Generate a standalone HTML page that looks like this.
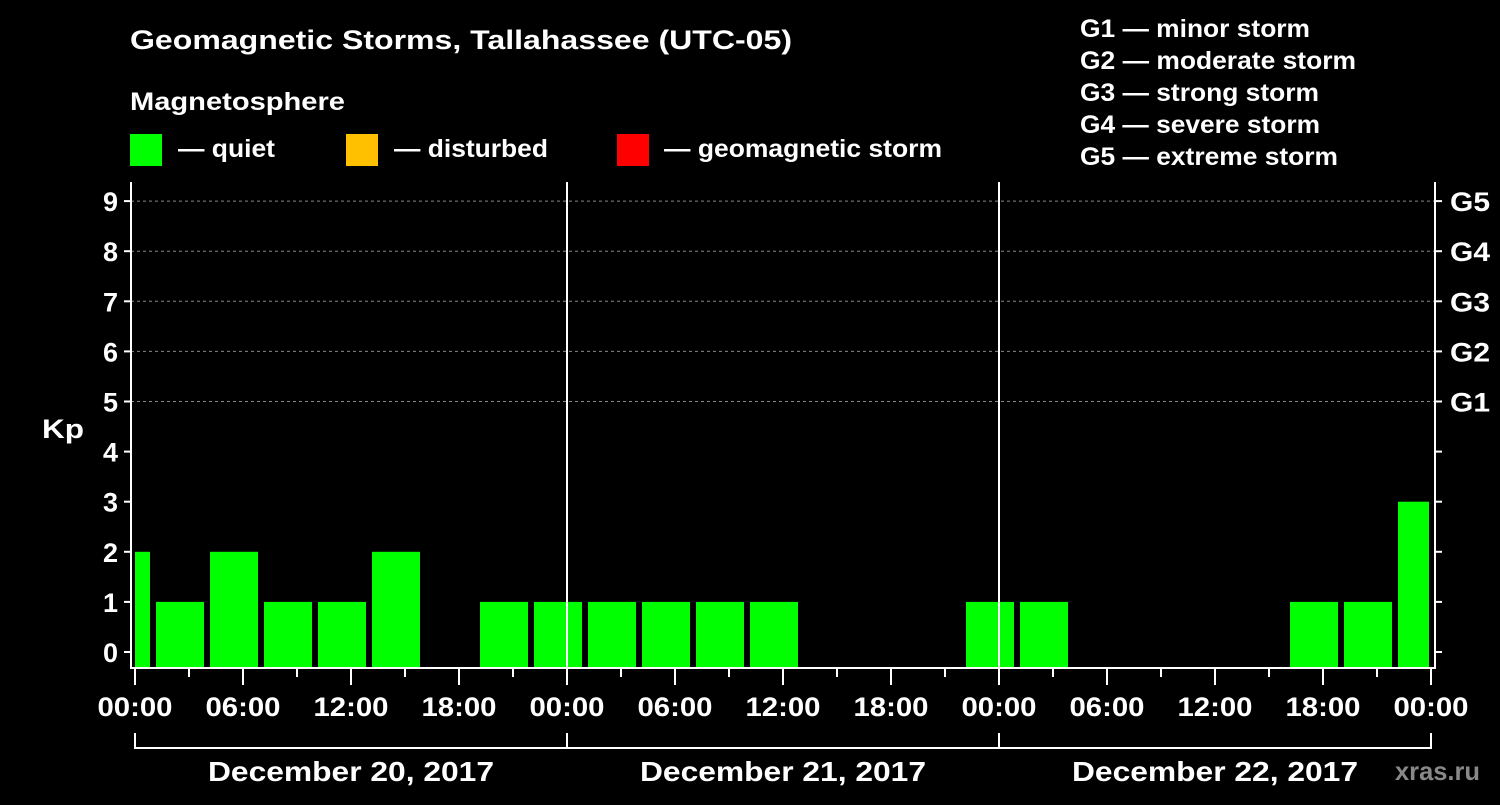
<!DOCTYPE html>
<html><head><meta charset="utf-8"><style>
body{margin:0;background:#000;width:1500px;height:800px;overflow:hidden}
svg text{font-family:"Liberation Sans",Arial,sans-serif;font-weight:bold;fill:#fff}
</style></head><body>
<svg width="1500" height="800" xmlns="http://www.w3.org/2000/svg">
<rect width="1500" height="800" fill="#000"/>
<text x="130" y="49" font-size="27" textLength="662" lengthAdjust="spacingAndGlyphs">Geomagnetic Storms, Tallahassee (UTC-05)</text>
<text x="130" y="110" font-size="25" textLength="215" lengthAdjust="spacingAndGlyphs">Magnetosphere</text>
<rect x="130" y="134" width="32" height="32" fill="#00ff00"/>
<text x="178" y="157" font-size="25" textLength="97" lengthAdjust="spacingAndGlyphs">— quiet</text>
<rect x="346" y="134" width="32" height="32" fill="#ffc000"/>
<text x="394" y="157" font-size="25" textLength="154" lengthAdjust="spacingAndGlyphs">— disturbed</text>
<rect x="617" y="134" width="32" height="32" fill="#ff0000"/>
<text x="664" y="157" font-size="25" textLength="278" lengthAdjust="spacingAndGlyphs">— geomagnetic storm</text>
<g font-size="25">
<text x="1080" y="37" textLength="230" lengthAdjust="spacingAndGlyphs">G1 — minor storm</text>
<text x="1080" y="69" textLength="276" lengthAdjust="spacingAndGlyphs">G2 — moderate storm</text>
<text x="1080" y="101" textLength="239" lengthAdjust="spacingAndGlyphs">G3 — strong storm</text>
<text x="1080" y="133" textLength="240" lengthAdjust="spacingAndGlyphs">G4 — severe storm</text>
<text x="1080" y="165" textLength="258" lengthAdjust="spacingAndGlyphs">G5 — extreme storm</text>
</g>
<g id="plot"></g>
<text x="42" y="438" font-size="27" textLength="42" lengthAdjust="spacingAndGlyphs">Kp</text>
<text x="1395" y="780" font-size="26" textLength="85" lengthAdjust="spacingAndGlyphs" style="fill:#888">xras.ru</text>
</svg>
<script>
const binStartHours=[-2,1,4,7,10,13,16,19,22,25,28,31,34,37,40,43,46,49,52,55,58,61,64,67,70];
const kpValues=[2,1,2,1,1,2,null,1,1,1,1,1,1,null,null,null,1,1,null,null,null,null,1,1,3];
const kpTicks=[0,1,2,3,4,5,6,7,8,9];
const gLabels=["G1","G2","G3","G4","G5"];
const hourTicks=["00:00","06:00","12:00","18:00"];
const dayLabels=["December 20, 2017","December 21, 2017","December 22, 2017"];
const NS="http://www.w3.org/2000/svg";
const g=document.getElementById('plot');
const X0=135,PX_H=18,Y0=652,PX_K=50.1,L=131,R=1435,T=182,B=668;
const x=h=>X0+h*PX_H, y=k=>Y0-k*PX_K;
function el(t,a,p){const e=document.createElementNS(NS,t);for(const k in a)e.setAttribute(k,a[k]);(p||g).appendChild(e);return e;}
kpTicks.forEach(k=>{
 if(k>=5){const l=el('line',{x1:L,x2:R,y1:y(k),y2:y(k),stroke:'#888','stroke-dasharray':'3,3','stroke-width':1});}
 const t1=el('line',{x1:L-7,x2:L,y1:y(k),y2:y(k),stroke:'#fff','stroke-width':2});
 const t2=el('line',{x1:R,x2:R+7,y1:y(k),y2:y(k),stroke:'#fff','stroke-width':2});
 const tx=el('text',{x:L-13,y:y(k)+10,'text-anchor':'end','font-size':27});tx.textContent=k;
});
gLabels.forEach((s,i)=>{const tx=el('text',{x:R+15,y:y(5+i)+10,'font-size':27,textLength:40,lengthAdjust:'spacingAndGlyphs'});tx.textContent=s;});
binStartHours.forEach((h,i)=>{
 const v=kpValues[i];if(v===null)return;
 let a=h,b=h+3,x1,x2;
 x1=a<0?x(0):x(a)+3; x2=b>72?x(72)-2:x(b)-3;
 const r=el('rect',{x:x1,y:y(v),width:x2-x1,height:B-y(v),fill:v>=5?'#ff0000':v>=4?'#ffc000':'#00ff00'});
 
});
[24,48].forEach(h=>{const l=el('line',{x1:x(h),x2:x(h),y1:T,y2:B,stroke:'#fff','stroke-width':2});});
let ax=el('line',{x1:L,x2:L,y1:T,y2:B+1,stroke:'#fff','stroke-width':2});
ax=el('line',{x1:R,x2:R,y1:T,y2:B+1,stroke:'#fff','stroke-width':2});
ax=el('line',{x1:L-1,x2:R+1,y1:B,y2:B,stroke:'#fff','stroke-width':2});
for(let h=0;h<=72;h+=3){
 const t=el('line',{x1:x(h),x2:x(h),y1:B,y2:h%6==0?B+17:B+9,stroke:'#fff','stroke-width':2});
 if(h%6==0){const tx=el('text',{x:x(h),y:716,'text-anchor':'middle','font-size':27,textLength:75,lengthAdjust:'spacingAndGlyphs'});tx.textContent=hourTicks[(h/6)%4];}
}
const br=el('line',{x1:x(0),x2:x(72),y1:748,y2:748,stroke:'#fff','stroke-width':2});
[0,24,48,72].forEach(h=>{const t=el('line',{x1:x(h),x2:x(h),y1:733,y2:749,stroke:'#fff','stroke-width':2});});
dayLabels.forEach((d,i)=>{const tx=el('text',{x:x(i*24+12),y:781,'text-anchor':'middle','font-size':28,textLength:286,lengthAdjust:'spacingAndGlyphs'});tx.textContent=d;});
</script>
</body></html>
